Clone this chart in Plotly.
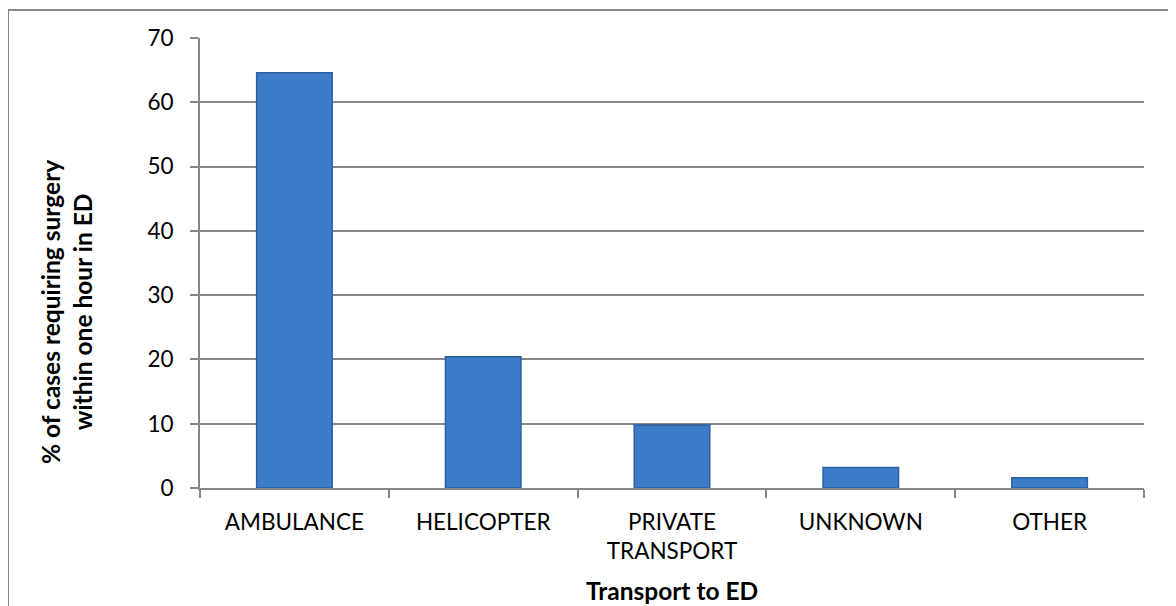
import plotly.graph_objects as go

categories = ["AMBULANCE", "HELICOPTER", "PRIVATE<br>TRANSPORT", "UNKNOWN", "OTHER"]
values = [64.6, 20.4, 9.8, 3.2, 1.6]
y_ticks = [0, 10, 20, 30, 40, 50, 60, 70]

x_title = "Transport to ED"
y_title_lines = ["% of cases requiring surgery", "within one hour in ED"]

FONT = "Lato, Calibri, Carlito, sans-serif"
GRID = "#878787"
TICK_SIZE = 22.5
TITLE_SIZE = 24.5

fig = go.Figure()
fig.add_trace(go.Bar(
    x=categories,
    y=values,
    width=0.4,
    marker=dict(color="#3B7BC8", line=dict(color="#2D5E9E", width=1.5)),
))

fig.update_layout(
    width=1176, height=606,
    margin=dict(l=192, r=40, t=30, b=126, autoexpand=False),
    paper_bgcolor="white",
    plot_bgcolor="white",
    showlegend=False,
    font=dict(family=FONT, size=TICK_SIZE, color="black"),
)

fig.update_xaxes(
    showline=True, linecolor=GRID, linewidth=2,
    ticks="outside", tickson="boundaries", ticklen=8, tickcolor=GRID, tickwidth=1.5,
    showgrid=False, automargin=False,
    ticklabelstandoff=13,
    tickfont=dict(family=FONT, size=TICK_SIZE, color="black"),
)
fig.update_yaxes(
    range=[0, 70], tickvals=y_ticks,
    showline=True, linecolor=GRID, linewidth=2,
    ticks="outside", ticklen=8, tickcolor=GRID, tickwidth=1.5,
    showgrid=True, gridcolor=GRID, gridwidth=1.5,
    zeroline=False, automargin=False,
    ticklabelstandoff=12,
    tickfont=dict(family=FONT, size=TICK_SIZE, color="black"),
)

fig.add_annotation(
    text="<b>" + x_title + "</b>", xref="paper", yref="paper",
    x=0.5, y=-0.228, xanchor="center", yanchor="middle",
    showarrow=False, font=dict(family=FONT, size=TITLE_SIZE, color="black"),
)
fig.add_annotation(
    text="<b>" + "<br>".join(y_title_lines) + "</b>", xref="paper", yref="paper",
    x=-0.142, y=0.391, xanchor="center", yanchor="middle", textangle=-90,
    showarrow=False, font=dict(family=FONT, size=TITLE_SIZE, color="black"),
)

fig.add_shape(
    type="rect", xref="paper", yref="paper",
    x0=-0.2034, x1=1.06, y0=-0.35, y1=1.062,
    line=dict(color="#868686", width=2), fillcolor="rgba(0,0,0,0)", layer="below",
)

fig.write_html("out.html")
